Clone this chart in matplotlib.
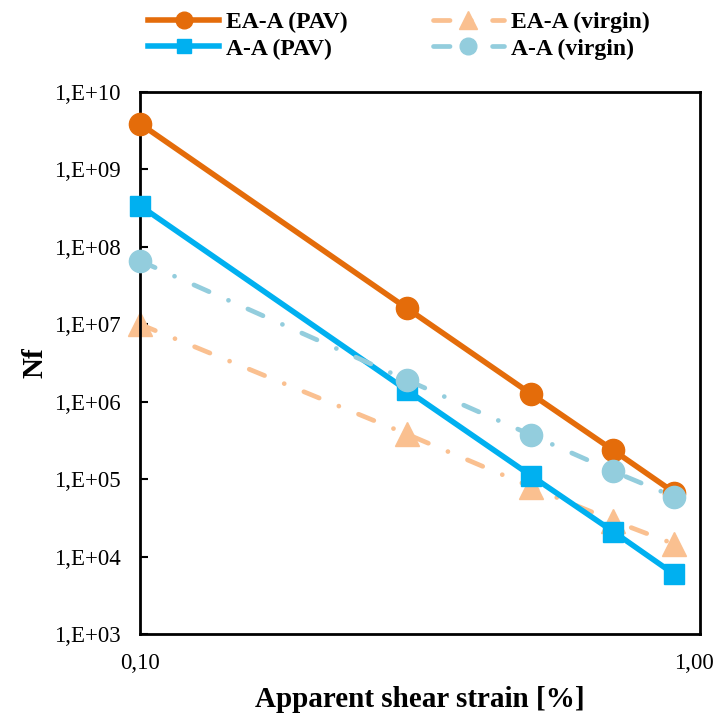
import matplotlib
matplotlib.use("Agg")
import matplotlib.pyplot as plt
import matplotlib.transforms as mtransforms
from matplotlib.ticker import FixedLocator, NullLocator

plt.rcParams['font.family'] = ['Liberation Serif', 'DejaVu Serif']

strain = [0.1, 0.3, 0.5, 0.7, 0.9]
ea_pav = [3.9e9, 1.6e7, 1.25e6, 2.36e5, 6.7e4]
a_pav = [3.4e8, 1.4e6, 1.1e5, 2.1e4, 5.9e3]
ea_virgin = [1.0e7, 3.8e5, 7.9e4, 2.9e4, 1.45e4]
a_virgin = [6.6e7, 1.9e6, 3.7e5, 1.26e5, 5.9e4]

yticks = [1e3, 1e4, 1e5, 1e6, 1e7, 1e8, 1e9, 1e10]
ytick_labels = ["1,E+03", "1,E+04", "1,E+05", "1,E+06", "1,E+07", "1,E+08", "1,E+09", "1,E+10"]
xticks = [0.1, 1.0]
xtick_labels = ["0,10", "1,00"]

fig = plt.figure(figsize=(7.17, 7.22), dpi=100)
ax = fig.add_axes([140/717, 1-634/722, 560/717, 542/722])

dashdot = (0, (3.5, 4.5, 0.01, 4.5))
l1, = ax.plot(strain, ea_pav, color='#E46C0A', lw=4.0, marker='o', ms=16, label='EA-A (PAV)')
l3, = ax.plot(strain, ea_virgin, color='#FAC090', lw=3.4, ls=dashdot, dash_capstyle='round',
              marker='^', ms=17, label='EA-A (virgin)')
l2, = ax.plot(strain, a_pav, color='#00B0F0', lw=4.0, marker='s', ms=14, label='A-A (PAV)')
l4, = ax.plot(strain, a_virgin, color='#93CDDD', lw=3.4, ls=dashdot, dash_capstyle='round',
              marker='o', ms=16, label='A-A (virgin)')
for l in (l1, l2, l3, l4):
    l.set_clip_on(False)
l1.set_zorder(3); l2.set_zorder(4); l3.set_zorder(2); l4.set_zorder(5)

ax.set_xscale('log')
ax.set_yscale('log')
ax.set_xlim(0.1, 1.0)
ax.set_ylim(1e3, 1e10)
ax.yaxis.set_major_locator(FixedLocator(yticks))
ax.yaxis.set_minor_locator(NullLocator())
ax.set_yticklabels(ytick_labels)
ax.xaxis.set_major_locator(FixedLocator(xticks))
ax.xaxis.set_minor_locator(NullLocator())
ax.set_xticklabels(xtick_labels)
ax.tick_params(axis='y', direction='in', length=6, width=1.5, labelsize=16.5, pad=14)
ax.tick_params(axis='x', length=0, labelsize=16.5, pad=14)
for s in ax.spines.values():
    s.set_linewidth(2)

# nudge the last x tick label left so it stays inside the figure
last = ax.get_xticklabels()[-1]
last.set_transform(last.get_transform() + mtransforms.ScaledTranslation(-6/100, 0, fig.dpi_scale_trans))

ax.set_xlabel('Apparent shear strain [%]', fontsize=21, fontweight='bold', labelpad=8)
ax.set_ylabel('Nf', fontsize=21, fontweight='bold', labelpad=4)

fig.legend(handles=[l1, l2, l3, l4], labels=[h.get_label() for h in (l1, l2, l3, l4)],
           ncol=2, loc='upper left', bbox_to_anchor=(127/717, 1.013), frameon=False,
           prop={'weight': 'bold', 'size': 17}, handlelength=3.0, columnspacing=3.6,
           labelspacing=0.2, handletextpad=0.3, markerscale=0.75)

fig.savefig('out.png', dpi=100)
